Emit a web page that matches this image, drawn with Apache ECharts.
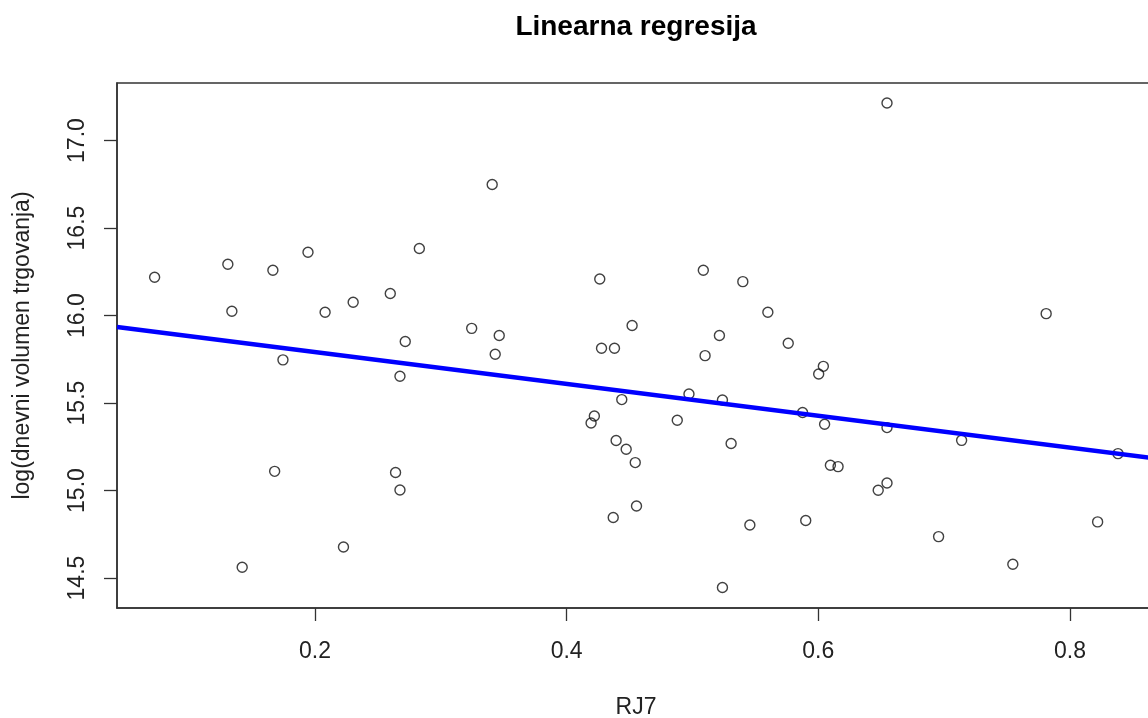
<!DOCTYPE html>
<html>
<head>
<meta charset="utf-8">
<script src="https://cdn.jsdelivr.net/npm/echarts@6/dist/echarts.min.js"></script>
<style>
html,body{margin:0;padding:0;background:#fff;}
#chart{width:1148px;height:718px;}
</style>
</head>
<body>
<div id="chart"></div>
<script>
// RJ7 values (x)
const rj7 = [0.0725, 0.1307, 0.1339, 0.1665, 0.1679, 0.1745, 0.1421, 0.1944, 0.2080, 0.2303,
  0.2598, 0.2717, 0.2829, 0.3408, 0.4263, 0.5086, 0.5400, 0.5599, 0.4520, 0.5214,
  0.3245, 0.3464, 0.3432, 0.4277, 0.4380, 0.5100, 0.2675, 0.4438, 0.4972, 0.5238,
  0.4220, 0.4194, 0.4879, 0.4393, 0.4473, 0.4545, 0.5307, 0.2640, 0.2675, 0.2226,
  0.4555, 0.4370, 0.5456, 0.5238, 0.5761, 0.6040, 0.6003, 0.5875, 0.6050, 0.6546,
  0.7139, 0.8382, 0.6096, 0.6157, 0.6546, 0.6476, 0.5900, 0.6956, 0.7546, 0.8220,
  0.6546, 0.7811];
// log(dnevni volumen trgovanja) values (y)
const logVolumen = [16.219, 16.293, 16.025, 16.259, 15.110, 15.747, 14.562, 16.362, 16.019, 16.076,
  16.126, 15.852, 16.383, 16.749, 16.209, 16.259, 16.194, 16.019, 15.943, 15.886,
  15.927, 15.886, 15.779, 15.813, 15.813, 15.771, 15.653, 15.520, 15.552, 15.518,
  15.426, 15.386, 15.402, 15.286, 15.236, 15.160, 15.269, 15.103, 15.003, 14.678,
  14.912, 14.846, 14.803, 14.446, 15.842, 15.710, 15.666, 15.446, 15.379, 15.360,
  15.287, 15.211, 15.145, 15.137, 15.043, 15.002, 14.829, 14.737, 14.579, 14.821,
  17.215, 16.011];
// fitted regression line
const fitIntercept = 15.974;
const fitSlope = -0.910;
// axis ranges and tick labels
const xRange = [0.0426, 0.8676];
const yRange = [14.329, 17.329];
const xTicks = [0.2, 0.4, 0.6, 0.8];
const yTicks = [14.5, 15.0, 15.5, 16.0, 16.5, 17.0];

const FONT = "'Liberation Sans', Arial, sans-serif";
const points = rj7.map((x, i) => [x, logVolumen[i]]);
const fitLine = xRange.map(x => [x, fitIntercept + fitSlope * x]);

const chart = echarts.init(document.getElementById('chart'), null, {renderer: 'canvas'});
chart.setOption({
  animation: false,
  backgroundColor: '#ffffff',
  graphic: [{
    type: 'text', x: 636, y: 27,
    style: {text: 'Linearna regresija', font: "bold 28px " + FONT, fill: '#000',
      textAlign: 'center', textVerticalAlign: 'middle'}
  }],
  grid: {left: 117, top: 83, width: 1038, height: 525, show: true,
    outerBoundsMode: 'none', containLabel: false,
    borderColor: '#333', borderWidth: 1.5, backgroundColor: 'transparent'},
  xAxis: {
    type: 'value', min: xRange[0], max: xRange[1],
    name: 'RJ7', nameLocation: 'middle', nameGap: 88,
    nameTextStyle: {fontFamily: FONT, fontSize: 23, color: '#222'},
    axisLine: {show: true, onZero: false, lineStyle: {color: '#333', width: 1.5}},
    axisTick: {show: true, inside: false, length: 13, customValues: xTicks,
      lineStyle: {color: '#333', width: 1.3}},
    axisLabel: {customValues: xTicks, margin: 32, fontFamily: FONT, fontSize: 23, color: '#222',
      formatter: v => v.toFixed(1)},
    splitLine: {show: false}
  },
  yAxis: {
    type: 'value', min: yRange[0], max: yRange[1],
    name: 'log(dnevni volumen trgovanja)', nameLocation: 'middle', nameGap: 83,
    nameTextStyle: {fontFamily: FONT, fontSize: 23, color: '#222'},
    axisLine: {show: true, onZero: false, lineStyle: {color: '#333', width: 1.5}},
    axisTick: {show: true, inside: false, length: 13, customValues: yTicks,
      lineStyle: {color: '#333', width: 1.3}},
    axisLabel: {customValues: yTicks, rotate: 90, margin: 28, fontFamily: FONT, fontSize: 23, color: '#222',
      formatter: v => v.toFixed(1)},
    splitLine: {show: false}
  },
  series: [{
    type: 'scatter', data: points, symbol: 'circle', symbolSize: 10, z: 2,
    itemStyle: {color: 'rgba(0,0,0,0)', borderColor: '#111', borderWidth: 1.4}
  }, {
    type: 'line', data: fitLine, showSymbol: false, symbol: 'none', z: 3,
    lineStyle: {color: '#0000ff', width: 4.5}
  }]
});
</script>
</body>
</html>
